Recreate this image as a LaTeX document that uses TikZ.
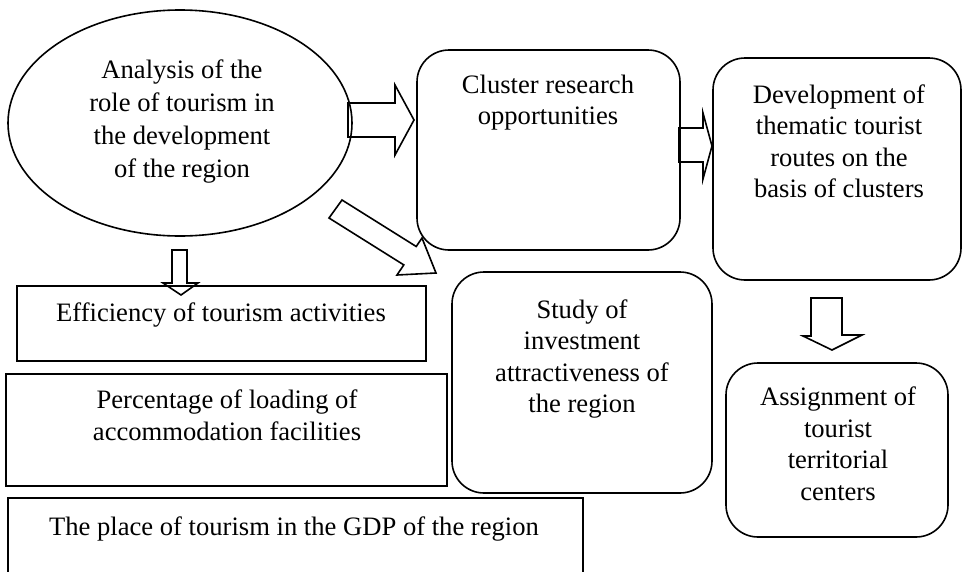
\documentclass[tikz,border=0pt]{standalone}
\usepackage{fontspec}
\setmainfont{Liberation Serif}
\usetikzlibrary{shapes.geometric}
\tikzset{
  box/.style={draw, line width=1.6pt, inner sep=0pt},
  rbox/.style={box, rounded corners=32pt},
  ellbox/.style={box, ellipse},
  txt/.style={align=center, inner sep=0pt, anchor=north, font=\fontsize{26.6}{31.5}\selectfont},
  blockarrow/.style={draw, line width=1.6pt, line join=miter}
}
\begin{document}
\begin{tikzpicture}[x=1pt, y=-1pt]
\clip (0,0) rectangle (962,571);
\fill[white] (0,0) rectangle (962,571);
% shapes
\node[ellbox, minimum width=344pt, minimum height=226pt] (ell) at (180,123) {};
\node[rbox, minimum width=263pt, minimum height=200pt] (clu) at (548.5,150) {};
\node[rbox, minimum width=248pt, minimum height=222pt] (dev) at (837,169) {};
\node[rbox, minimum width=260pt, minimum height=221pt] (stu) at (582,382.5) {};
\node[rbox, minimum width=222pt, minimum height=174pt] (asg) at (837,450) {};
\node[box, minimum width=409pt, minimum height=75pt] (eff) at (221.5,323.5) {};
\node[box, minimum width=441pt, minimum height=112pt] (pct) at (226.5,430) {};
\node[box, minimum width=575pt, minimum height=92pt] (gdp) at (295.5,544) {};
% texts
\node[txt, font=\fontsize{26.6}{33}\selectfont] (tell) at (182,59.5) {Analysis of the\\role of tourism in\\the development\\of the region};
\node[txt] (tclu) at (548,74.5) {Cluster research\\opportunities};
\node[txt] (tdev) at (839,84.5) {Development of\\thematic tourist\\routes on the\\basis of clusters};
\node[txt] (tstu) at (582,299.5) {Study of\\investment\\attractiveness of\\the region};
\node[txt] (tasg) at (838,387) {Assignment of\\tourist\\territorial\\centers};
\node[txt] (teff) at (221,303) {Efficiency of tourism activities};
\node[txt] (tpct) at (227,390) {Percentage of loading of\\accommodation facilities};
\node[txt] (tgdp) at (294,517) {The place of tourism in the GDP of the region};
% block arrows
\draw[blockarrow] (348,103) -- (395,103) -- (395,85) -- (414,120) -- (395,155) -- (395,137) -- (348,137) -- cycle;
\draw[blockarrow] (679,128) -- (703,128) -- (703,113) -- (712,146) -- (703,179) -- (703,162) -- (679,162) -- cycle;
\draw[blockarrow] (329,218) -- (342,200) -- (416.2,246.5) -- (422,238) -- (436,273) -- (397,275) -- (403.8,264.9) -- cycle;
\draw[blockarrow] (172,250) -- (187,250) -- (187,283) -- (198,283) -- (181,295) -- (163,283) -- (172,283) -- cycle;
\draw[blockarrow] (811,298) -- (842,298) -- (842,335) -- (862,335) -- (832,350) -- (803,336) -- (811,336) -- cycle;
\end{tikzpicture}
\end{document}
